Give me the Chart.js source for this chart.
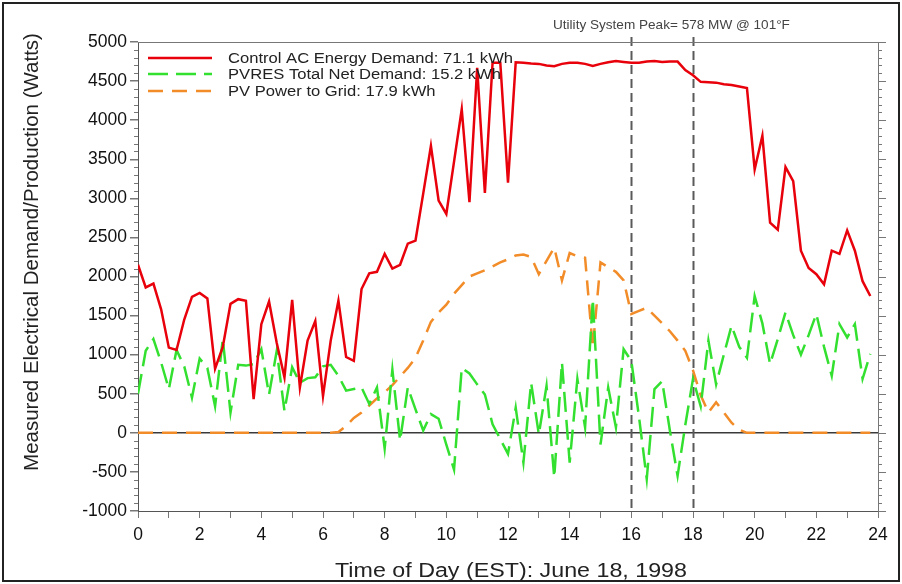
<!DOCTYPE html>
<html>
<head>
<meta charset="utf-8">
<script src="https://cdn.jsdelivr.net/npm/chart.js@4"></script>
<style>
  html, body { margin: 0; padding: 0; background: #fff; }
  canvas { display: block; }
</style>
</head>
<body>
<canvas id="chart" width="902" height="584"></canvas>
<script>
'use strict';

// 15-minute readings, hour of day
const hours = [
  0, 0.25, 0.5, 0.75, 1, 1.25, 1.5, 1.75, 2, 2.25, 2.5, 2.75,
  3, 3.25, 3.5, 3.75, 4, 4.25, 4.5, 4.75, 5, 5.25, 5.5, 5.75,
  6, 6.25, 6.5, 6.75, 7, 7.25, 7.5, 7.75, 8, 8.25, 8.5, 8.75,
  9, 9.25, 9.5, 9.75, 10, 10.25, 10.5, 10.75, 11, 11.25, 11.5, 11.75,
  12, 12.25, 12.5, 12.75, 13, 13.25, 13.5, 13.75, 14, 14.25, 14.5, 14.75,
  15, 15.25, 15.5, 15.75, 16, 16.25, 16.5, 16.75, 17, 17.25, 17.5, 17.75,
  18, 18.25, 18.5, 18.75, 19, 19.25, 19.5, 19.75, 20, 20.25, 20.5, 20.75,
  21, 21.25, 21.5, 21.75, 22, 22.25, 22.5, 22.75, 23, 23.25, 23.5, 23.75
];

const controlDemand = [
  2150, 1860, 1910, 1580, 1090, 1060, 1450, 1740, 1790, 1720, 820, 1100,
  1650, 1710, 1690, 430, 1390, 1680, 1150, 710, 1700, 580, 1180, 1430,
  470, 1180, 1690, 970, 920, 1840, 2040, 2060, 2290, 2100, 2150, 2420,
  2460, 3060, 3670, 2970, 2800, 3470, 4140, 2950, 4670, 3070, 4735, 4735,
  3200, 4740, 4735, 4725, 4720, 4700, 4690, 4720, 4735, 4735, 4720, 4695,
  4720, 4740, 4757, 4745, 4735, 4735, 4750, 4757, 4745, 4750, 4750, 4640,
  4575, 4490, 4485, 4480, 4460, 4450, 4430, 4410, 3370, 3800, 2690, 2600,
  3400, 3220, 2330, 2110, 2030, 1900, 2330, 2290, 2590, 2330, 1940, 1750
];

const pvresNet = [
  500, 1050, 1200, 900, 560, 1060, 850, 450, 950, 830, 340, 1200,
  260, 870, 860, 880, 1070, 490, 1050, 280, 840, 640, 700, 710,
  850, 870, 730, 540, 560, 580, 370, 580, -200, 810, -100, 580,
  300, 30, 240, 180, -150, -470, 830, 760, 620, 490, 110, -80,
  -270, 320, -380, 640, -20, 600, -570, 900, -380, 690, 70, 1710,
  -150, 580, 70, 1070, 920, 200, -590, 560, 660, 30, -550, 100,
  690, 340, 1180, 620, 1000, 1370, 1100, 960, 1750, 1400, 880, 1200,
  1540, 1250, 1000, 1250, 1520, 1100, 730, 1390, 1220, 1390, 690, 1010
];

const pvToGrid = [
  0, 0, 0, 0, 0, 0, 0, 0, 0, 0, 0, 0,
  0, 0, 0, 0, 0, 0, 0, 0, 0, 0, 0, 0,
  0, 0, 10, 90, 190, 260, 350, 440, 520, 610, 720, 830,
  960, 1180, 1420, 1540, 1640, 1780, 1890, 2000, 2040, 2080, 2130, 2180,
  2220, 2270, 2280, 2250, 2030, 2200, 2370, 1950, 2300, 2260, 2240, 1090,
  2180, 2120, 2060, 1950, 1520, 1560, 1600, 1500, 1400, 1300, 1180, 1050,
  800, 480, 260, 390, 260, 130, 40, 0, 0, 0, 0, 0,
  0, 0, 0, 0, 0, 0, 0, 0, 0, 0, 0, 0
];

const seriesNames = [
  'Control AC Energy Demand: 71.1 kWh',
  'PVRES Total Net Demand: 15.2 kWh',
  'PV Power to Grid: 17.9 kWh'
];

const peakHours = [16, 18];
const peakNote = 'Utility System Peak= 578 MW @ 101°F';
const xTitle = 'Time of Day (EST): June 18, 1998';
const yTitle = 'Measured Electrical Demand/Production (Watts)';

const FONT = "'Liberation Sans', Arial, sans-serif";
const STRETCH = 1.13;   // the source image is a little wider than tall

const pts = vals => hours.map((h, i) => ({ x: h, y: vals[i] }));

// font size (px, rounded) that gives `text` the natural width `width`
function sizeFor(ctx, text, width) {
  ctx.font = `20px ${FONT}`;
  return Math.round(2000 * width / ctx.measureText(text).width) / 100;
}

// draw text widened by STRETCH so it ends up `width` px wide
function wideText(ctx, text, x, y, width, align) {
  const fs = sizeFor(ctx, text, width / STRETCH);
  ctx.save();
  ctx.font = `${fs}px ${FONT}`;
  ctx.textBaseline = 'middle';
  ctx.textAlign = align;
  ctx.translate(x, y);
  ctx.scale(STRETCH, 1);
  ctx.fillText(text, 0, 0);
  ctx.restore();
}

const decor = {
  id: 'decor',
  beforeDatasetsDraw(chart) {
    const { ctx, chartArea: a, scales: { x } } = chart;
    ctx.save();
    ctx.strokeStyle = '#5a5a5a';
    ctx.lineWidth = 2;
    ctx.setLineDash([9, 5]);
    peakHours.forEach(h => {
      const px = Math.round(x.getPixelForValue(h)) + 0.5;
      ctx.beginPath();
      ctx.moveTo(px, a.top - 5);
      ctx.lineTo(px, a.bottom);
      ctx.stroke();
    });
    ctx.restore();
  },
  afterDraw(chart) {
    const { ctx, chartArea: a, scales: { y } } = chart;
    ctx.save();

    // top and right frame of the plot
    ctx.strokeStyle = '#777';
    ctx.lineWidth = 1;
    ctx.beginPath();
    ctx.moveTo(a.left, a.top + 0.5); ctx.lineTo(a.right, a.top + 0.5);
    ctx.moveTo(a.right + 0.5, a.top); ctx.lineTo(a.right + 0.5, a.bottom);
    ctx.stroke();

    // minor ticks left, all ticks right
    ctx.beginPath();
    for (let v = -1000; v <= 5000; v += 100) {
      const py = Math.round(y.getPixelForValue(v)) + 0.5;
      const major = v % 500 === 0;
      if (!major) { ctx.moveTo(a.left - 4, py); ctx.lineTo(a.left, py); }
      ctx.moveTo(a.right, py); ctx.lineTo(a.right + (major ? 8 : 4), py);
    }
    ctx.stroke();

    // legend inside the plot
    const rows = [58, 74, 91];
    chart.data.datasets.forEach((d, i) => {
      ctx.strokeStyle = d.borderColor;
      ctx.lineWidth = d.borderWidth;
      ctx.setLineDash(d.borderDash || []);
      ctx.beginPath();
      ctx.moveTo(148, rows[i]); ctx.lineTo(212, rows[i]);
      ctx.stroke();
      ctx.setLineDash([]);
    });
    ctx.fillStyle = '#222';
    ctx.font = `20px ${FONT}`;
    const legendScale = 285 / ctx.measureText(seriesNames[0]).width;
    seriesNames.forEach((name, i) => {
      ctx.font = `20px ${FONT}`;
      wideText(ctx, name, 228, rows[i] + 1, ctx.measureText(name).width * legendScale, 'left');
    });

    // peak note
    ctx.fillStyle = '#444';
    wideText(ctx, peakNote, 553, 26, 237, 'left');

    // axis titles
    ctx.fillStyle = '#222';
    wideText(ctx, xTitle, 511, 571, 352, 'center');

    const fs = sizeFor(ctx, yTitle, 438);
    ctx.translate(32, 252);
    ctx.rotate(-Math.PI / 2);
    ctx.font = `${fs}px ${FONT}`;
    ctx.textAlign = 'center';
    ctx.textBaseline = 'middle';
    ctx.fillText(yTitle, 0, 0);
    ctx.setTransform(1, 0, 0, 1, 0, 0);

    // picture frame
    ctx.strokeStyle = '#222';
    ctx.lineWidth = 2;
    ctx.strokeRect(3, 3, 896, 578);
    ctx.restore();
  }
};

const tickFont = { family: FONT, size: 17.5 };

new Chart(document.getElementById('chart'), {
  type: 'line',
  data: {
    datasets: [
      { label: seriesNames[0], data: pts(controlDemand), borderColor: '#e8000b', borderWidth: 2.5 },
      { label: seriesNames[1], data: pts(pvresNet), borderColor: '#33e030', borderWidth: 2.5, borderDash: [20, 8] },
      { label: seriesNames[2], data: pts(pvToGrid), borderColor: '#f28c28', borderWidth: 2.5, borderDash: [15, 9] }
    ]
  },
  options: {
    responsive: false,
    animation: false,
    layout: { padding: { top: 42, right: 24, left: 0, bottom: 0 } },
    elements: { point: { radius: 0 }, line: { tension: 0 } },
    plugins: { legend: { display: false }, tooltip: { enabled: false } },
    scales: {
      x: {
        type: 'linear', min: 0, max: 24,
        ticks: {
          stepSize: 1, autoSkip: false, maxRotation: 0, padding: 7,
          color: '#111', font: tickFont,
          callback: v => (v % 2 === 0 ? String(v) : '')
        },
        grid: { drawOnChartArea: false, tickLength: 7, tickColor: '#777' },
        border: { color: '#555', width: 1 },
        afterFit: s => { s.height = 73; }
      },
      y: {
        min: -1000, max: 5000,
        ticks: { stepSize: 500, padding: 3, color: '#111', font: tickFont, callback: v => String(v) },
        grid: {
          color: c => (c.tick && c.tick.value === 0 ? '#3a3a3a' : 'rgba(0,0,0,0)'),
          lineWidth: 1.5, tickColor: '#777', tickLength: 8
        },
        border: { color: '#555', width: 1 },
        afterFit: s => { s.width = 138; }
      }
    }
  },
  plugins: [decor]
});
</script>
</body>
</html>
